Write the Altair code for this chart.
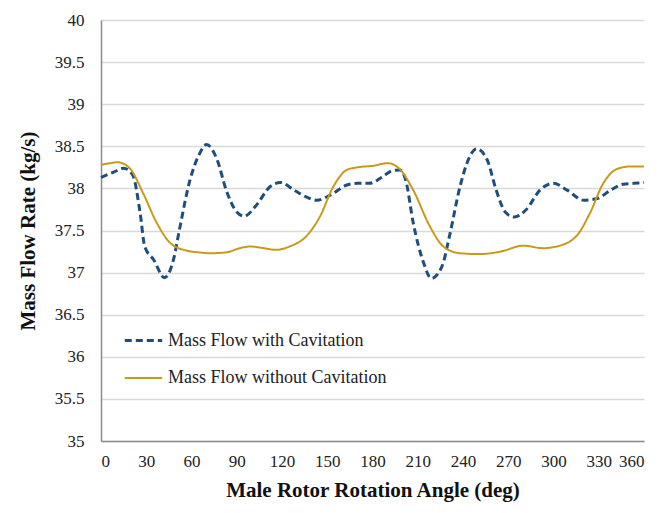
import altair as alt
import pandas as pd

# Mass flow with cavitation (dashed blue)
cav_angle = [0, 8, 15, 21, 26, 29, 35, 42, 48, 52, 59, 65, 70, 77, 83, 90, 95, 103, 112, 119, 128, 136, 143, 152, 163, 170, 178, 186, 193, 198, 202, 207, 214, 219, 226, 231, 238, 244, 249, 256, 262, 268, 274, 282, 291, 300, 309, 320, 329, 338, 346, 353, 360]
cav_flow = [38.13, 38.19, 38.24, 38.16, 37.70, 37.31, 37.15, 36.94, 37.15, 37.51, 38.10, 38.40, 38.52, 38.34, 37.98, 37.72, 37.67, 37.80, 38.02, 38.07, 37.98, 37.90, 37.86, 37.92, 38.04, 38.06, 38.06, 38.13, 38.21, 38.22, 38.10, 37.59, 37.11, 36.93, 37.07, 37.43, 38.02, 38.36, 38.47, 38.34, 37.98, 37.72, 37.66, 37.75, 37.98, 38.06, 37.98, 37.86, 37.88, 37.98, 38.05, 38.06, 38.07]

# Mass flow without cavitation (solid gold)
dry_angle = [0, 6, 11, 19, 28, 37, 46, 57, 65, 72, 83, 92, 99, 108, 116, 125, 136, 145, 154, 163, 170, 181, 190, 198, 207, 218, 227, 238, 251, 265, 280, 293, 302, 315, 324, 333, 342, 351, 360]
dry_flow = [38.28, 38.30, 38.31, 38.24, 37.94, 37.59, 37.35, 37.26, 37.24, 37.23, 37.24, 37.29, 37.31, 37.29, 37.27, 37.31, 37.43, 37.66, 38.02, 38.22, 38.25, 38.27, 38.30, 38.23, 37.98, 37.55, 37.31, 37.23, 37.22, 37.25, 37.32, 37.29, 37.31, 37.43, 37.70, 38.06, 38.23, 38.26, 38.26]

series_names = ["Mass Flow with Cavitation", "Mass Flow without Cavitation"]
series_colors = ["#1f4e7d", "#c99a1a"]
x_ticks = list(range(0, 361, 30))
y_ticks = [35, 35.5, 36, 36.5, 37, 37.5, 38, 38.5, 39, 39.5, 40]

df = pd.concat([
    pd.DataFrame({"angle": cav_angle, "flow": cav_flow, "series": series_names[0]}),
    pd.DataFrame({"angle": dry_angle, "flow": dry_flow, "series": series_names[1]}),
])

FONT = "Liberation Serif"

chart = alt.Chart(df).mark_line(interpolate="monotone", strokeCap="butt").encode(
    x=alt.X("angle:Q", scale=alt.Scale(domain=[0, 360], nice=False),
            axis=alt.Axis(values=x_ticks, title="Male Rotor Rotation Angle (deg)", grid=False,
                          ticks=False, labelPadding=12, titlePadding=10, labelFontSize=17,
                          titleFontSize=21, titleFontWeight="bold", labelFont=FONT, titleFont=FONT,
                          domainColor="#8c8c8c", domainWidth=1.5, labelColor="#222", titleColor="#111",
                          labelOverlap=False)),
    y=alt.Y("flow:Q", scale=alt.Scale(domain=[35, 40], nice=False, zero=False),
            axis=alt.Axis(values=y_ticks, title="Mass Flow Rate (kg/s)", grid=True,
                          gridColor="#d9d9d9", gridWidth=1.5, ticks=False, labelPadding=17,
                          titlePadding=16, labelFontSize=17, titleFontSize=21,
                          titleFontWeight="bold", labelFont=FONT, titleFont=FONT,
                          domainColor="#8c8c8c", domainWidth=1.5, labelColor="#222", titleColor="#111",
                          format="~g", labelOverlap=False)),
    color=alt.Color("series:N", scale=alt.Scale(domain=series_names, range=series_colors),
                    legend=alt.Legend(title=None, orient="none", legendX=22, legendY=300,
                                      symbolType="stroke", symbolSize=1400, symbolStrokeWidth=3,
                                      labelFontSize=18, labelColor="#222", labelFont=FONT,
                                      rowPadding=8, labelOffset=4, labelLimit=400)),
    strokeDash=alt.StrokeDash("series:N", scale=alt.Scale(domain=series_names, range=[[7, 4], [1, 0]]),
                              legend=None),
    strokeWidth=alt.StrokeWidth("series:N", scale=alt.Scale(domain=series_names, range=[3, 2]),
                                legend=None),
).properties(
    width=543, height=421,
    autosize=alt.AutoSizeParams(type="none"),
    padding={"left": 93, "top": 12, "right": 10, "bottom": 64},
).configure_view(stroke=None)

chart.save("out.html", embed_options={"renderer": "svg", "actions": False})
